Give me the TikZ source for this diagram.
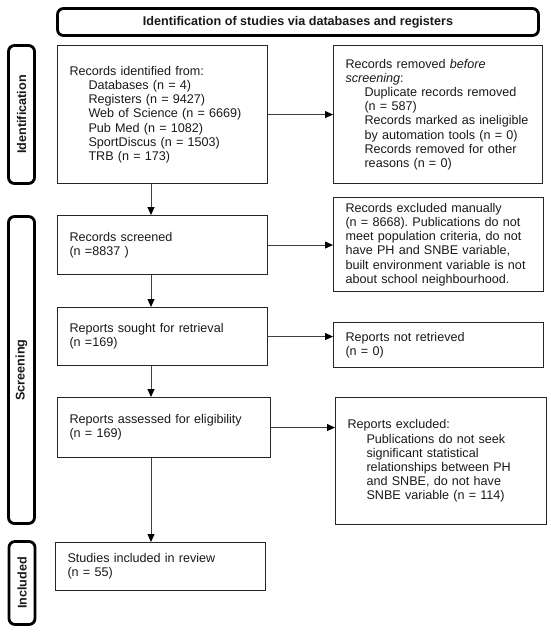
\documentclass[tikz,border=0pt]{standalone}
\usepackage{fontspec}
\setmainfont{Liberation Sans}
\usetikzlibrary{arrows.meta,calc}
\frenchspacing
\newcommand{\ind}{\hspace*{19pt}}
\newcommand{\boxfont}{\fontsize{12.6}{14.2}\selectfont}
\begin{document}
\begin{tikzpicture}[x=1pt,y=-1pt,
  every node/.style={font=\boxfont, text=black!90},
  pbox/.style={draw=black!85, line width=1.1pt, align=left, inner xsep=12pt, inner ysep=0pt, anchor=north west, execute at begin node={\boxfont\frenchspacing}},
  phase/.style={draw=black, line width=2.8pt, rounded corners=6pt, font=\boxfont\bfseries, inner sep=0pt, anchor=center},
  side/.style={phase, rotate=90, minimum height=26pt},
  arr/.style={draw=black!75, line width=0.9pt, -{Triangle[length=8pt,width=7pt,color=black]}}
]
\useasboundingbox (0,0) rectangle (550,632);

% phase boxes
\node[phase, minimum width=481pt, minimum height=27pt] (head) at (298,22) {Identification of studies via databases and registers};
\node[side, minimum width=138pt] (sid) at (21.5,114.5) {Identification};
\node[side, minimum width=307pt] (sscr) at (21.5,370) {Screening};
\node[side, minimum width=83pt] (sinc) at (22,583) {Included};

% left column
\node[pbox, text width=186pt, minimum height=138pt] (recid) at (57,45) {Records identified from:\\
\ind Databases (n = 4)\\
\ind Registers (n = 9427)\\
\ind Web of Science (n = 6669)\\
\ind Pub Med (n = 1082)\\
\ind SportDiscus (n = 1503)\\
\ind TRB (n = 173)};
\node[pbox, text width=186pt, minimum height=59pt] (screened) at (57,215) {Records screened\\(n =8837 )};
\node[pbox, text width=186pt, minimum height=58pt] (sought) at (57,307) {Reports sought for retrieval\\(n =169)};
\node[pbox, text width=189pt, minimum height=60pt] (assessed) at (57,397) {Reports assessed for eligibility\\(n = 169)};
\node[pbox, text width=186pt, minimum height=48pt] (studies) at (55,542) {Studies included in review\\(n = 55)};

% right column
\node[pbox, text width=185pt, minimum height=138pt] (removed) at (333,45) {Records removed \textit{before}\\
\textit{screening}:\\
\ind Duplicate records removed\\
\ind (n = 587)\\
\ind Records marked as ineligible\\
\ind by automation tools (n = 0)\\
\ind Records removed for other\\
\ind reasons (n = 0)};
\node[pbox, text width=186pt, minimum height=94pt] (exman) at (333,197) {Records excluded manually\\
(n = 8668). Publications do not\\
meet population criteria, do not\\
have PH and SNBE variable,\\
built environment variable is not\\
about school neighbourhood.};
\node[pbox, text width=186pt, minimum height=45pt] (notret) at (333,322) {Reports not retrieved\\(n = 0)};
\node[pbox, text width=187pt, minimum height=127pt] (exrep) at (335,397) {Reports excluded:\\
\ind Publications do not seek\\
\ind significant statistical\\
\ind relationships between PH\\
\ind and SNBE, do not have\\
\ind SNBE variable (n = 114)};

% connectors
\coordinate (ax) at (151,0);
\draw[arr] (recid.south -| ax) -- (screened.north -| ax);
\draw[arr] (screened.south -| ax) -- (sought.north -| ax);
\draw[arr] (sought.south -| ax) -- (assessed.north -| ax);
\draw[arr] (assessed.south -| ax) -- (studies.north -| ax);
\draw[arr] (recid.east) -- (removed.west |- recid.east);
\draw[arr] (screened.east) -- (exman.west |- screened.east);
\draw[arr] (sought.east) -- (notret.west |- sought.east);
\draw[arr] (assessed.east) -- (exrep.west |- assessed.east);
\end{tikzpicture}
\end{document}
